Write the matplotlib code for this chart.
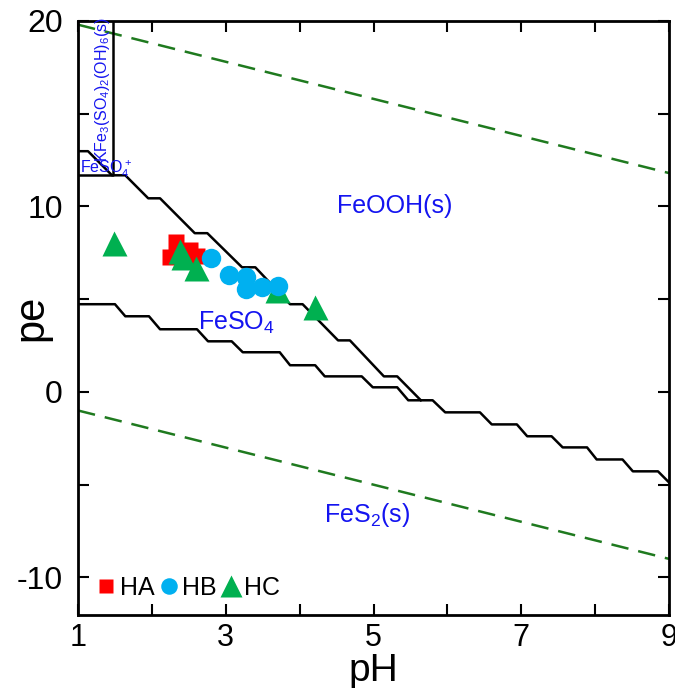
import matplotlib
matplotlib.use("Agg")
import matplotlib.pyplot as plt
from matplotlib.ticker import FixedLocator

plt.rcParams['font.family'] = ['Liberation Sans', 'DejaVu Sans']
plt.rcParams['mathtext.default'] = 'regular'
plt.rcParams['axes.unicode_minus'] = False

# samples (pH, pe)
ha_ph = [2.33, 2.52, 2.24, 2.61]
ha_pe = [8.07, 7.64, 7.26, 7.32]
hb_ph = [2.80, 3.04, 3.27, 3.27, 3.49, 3.71]
hb_pe = [7.21, 6.29, 6.18, 5.54, 5.64, 5.70]
hc_ph = [1.49, 2.38, 2.42, 2.60, 3.69, 4.21]
hc_pe = [8.05, 7.60, 7.25, 6.70, 5.48, 4.56]

# stability field boundaries
upper_ph = [1.0, 1.135, 1.46, 1.64, 1.95, 2.11, 2.58, 2.75, 3.22, 3.40, 3.87, 4.04,
            4.52, 4.68, 5.14, 5.32, 5.64]
upper_pe = [12.98, 12.98, 11.68, 11.68, 10.44, 10.44, 8.56, 8.56, 6.72, 6.72, 4.73, 4.73,
            2.78, 2.78, 0.84, 0.84, -0.45]
lower_ph = [1.0, 1.50, 1.64, 1.96, 2.11, 2.61, 2.76, 3.08, 3.23, 3.73, 3.87, 4.21, 4.34,
            4.84, 4.99, 5.32, 5.47, 5.80, 5.97, 6.44, 6.60, 6.94, 7.08, 7.41, 7.56, 7.89,
            8.02, 8.37, 8.51, 8.85, 9.0]
lower_pe = [4.73, 4.73, 4.08, 4.08, 3.38, 3.38, 2.73, 2.73, 2.14, 2.14, 1.44, 1.44, 0.84,
            0.84, 0.25, 0.25, -0.45, -0.45, -1.10, -1.10, -1.75, -1.75, -2.39, -2.39, -2.99,
            -2.99, -3.64, -3.64, -4.28, -4.28, -4.88]
box_ph = [1.0, 1.47, 1.47]
box_pe = [11.68, 11.68, 20.0]

# water stability limits
o2_ph = [1, 9]
o2_pe = [19.8, 11.8]
h2_ph = [1, 9]
h2_pe = [-1, -9]

x_major = [1, 3, 5, 7, 9]
x_minor = [2, 4, 6, 8]
y_major = [-10, 0, 10, 20]
y_minor = [-5, 5, 15]

blue = '#1414f0'

fig = plt.figure(figsize=(6.75, 6.88), dpi=100)
ax = fig.add_axes([0.1156, 0.1068, 0.8756, 0.8627])

ax.plot(o2_ph, o2_pe, color='#1f7a1f', lw=1.8, dashes=(7, 4))
ax.plot(h2_ph, h2_pe, color='#1f7a1f', lw=1.8, dashes=(7, 4))
ax.plot(upper_ph, upper_pe, color='black', lw=1.8)
ax.plot(lower_ph, lower_pe, color='black', lw=1.8)
ax.plot(box_ph, box_pe, color='black', lw=1.8)

ha, = ax.plot(ha_ph, ha_pe, 's', color='#ff0000', ms=11.5, mec='none', label='HA')
hc, = ax.plot(hc_ph, hc_pe, '^', color='#00b050', ms=18, mec='none', label='HC')
hb, = ax.plot(hb_ph, hb_pe, 'o', color='#00b0f0', ms=14, mec='none', label='HB')

ax.text(4.50, 9.64, 'FeOOH(s)', color=blue, fontsize=18, va='baseline')
ax.text(2.62, 3.35, 'FeSO$_4$', color=blue, fontsize=18, va='baseline')
ax.text(4.33, -7.0, 'FeS$_2$(s)', color=blue, fontsize=18, va='baseline')
ax.text(1.03, 11.77, 'FeSO$_4^+$', color=blue, fontsize=11.5, va='baseline')
ax.text(1.33, 16.3, 'KFe$_3$(SO$_4$)$_2$(OH)$_6$(s)', color=blue, fontsize=11.5,
        rotation=90, ha='center', va='center')

ax.set_xlim(1, 9)
ax.set_ylim(-12, 20)
ax.xaxis.set_major_locator(FixedLocator(x_major))
ax.xaxis.set_minor_locator(FixedLocator(x_minor))
ax.yaxis.set_major_locator(FixedLocator(y_major))
ax.yaxis.set_minor_locator(FixedLocator(y_minor))
ax.tick_params(which='both', direction='in', top=True, right=True, length=8, width=1.5)
ax.tick_params(axis='x', labelsize=22, pad=6)
ax.tick_params(axis='y', labelsize=23, pad=11)
for s in ax.spines.values():
    s.set_linewidth(2)

ax.set_xlabel('pH', fontsize=28)
ax.set_ylabel('pe', fontsize=30)
ax.xaxis.set_label_coords(0.5, -0.064)
ax.yaxis.set_label_coords(-0.045, 0.5)

ax.legend(handles=[ha, hb, hc], loc='lower left', ncol=3, frameon=False, fontsize=18,
          markerscale=0.85, handlelength=0.6, handletextpad=0.25, columnspacing=0.25,
          borderaxespad=0.2, bbox_to_anchor=(0.01, 0.0))

fig.savefig('out.png', dpi=100)
